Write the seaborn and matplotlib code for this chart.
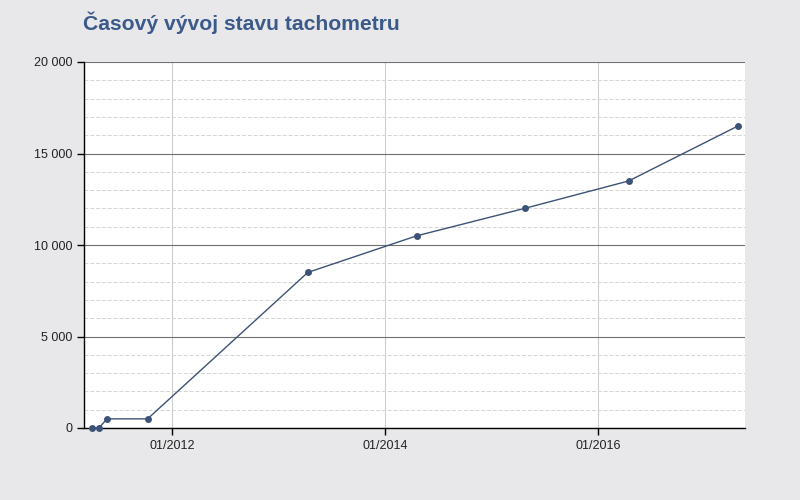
import pandas as pd
import matplotlib
matplotlib.use("Agg")
import matplotlib.pyplot as plt
import matplotlib.dates as mdates
from matplotlib.ticker import FuncFormatter, MultipleLocator
import seaborn as sns

# data
dates = ["2011-04-02", "2011-04-26", "2011-05-24", "2011-10-10", "2013-04-11",
         "2014-04-19", "2015-04-24", "2016-04-15", "2017-04-24"]
km = [0, 0, 500, 500, 8500, 10500, 12000, 13500, 16500]
tick_dates = ["2012-01-01", "2014-01-01", "2016-01-01"]

df = pd.DataFrame({"datum": pd.to_datetime(dates), "km": km})

sns.set_style("white")
plt.rcParams["font.family"] = ["Liberation Sans", "DejaVu Sans"]

bg = "#e8e8ea"
fig, ax = plt.subplots(figsize=(8, 5), dpi=100)
fig.patch.set_facecolor(bg)
fig.subplots_adjust(left=0.105, right=0.931, top=0.876, bottom=0.144)
ax.set_facecolor("white")

sns.lineplot(data=df, x="datum", y="km", ax=ax, color="#3d5278", linewidth=1,
             marker="o", markersize=5, markeredgewidth=0, zorder=3, clip_on=False)

ax.set_xlim(pd.Timestamp("2011-03-06"), pd.Timestamp("2017-05-18"))
ax.set_ylim(0, 20000)

ax.set_xticks(pd.to_datetime(tick_dates))
ax.xaxis.set_major_formatter(mdates.DateFormatter("%m/%Y"))
ax.yaxis.set_major_locator(MultipleLocator(5000))
ax.yaxis.set_minor_locator(MultipleLocator(1000))
ax.yaxis.set_major_formatter(FuncFormatter(lambda v, p: f"{int(v):,}".replace(",", " ")))

ax.grid(axis="y", which="major", color="#707070", linewidth=0.8)
ax.grid(axis="y", which="minor", color="#d4d4d4", linewidth=0.7, linestyle=(0, (4, 2)))
ax.grid(axis="x", which="major", color="#cccccc", linewidth=0.8)
ax.set_axisbelow(True)

for s in ["top", "right"]:
    ax.spines[s].set_visible(False)
for s in ["left", "bottom"]:
    ax.spines[s].set_color("black")
    ax.spines[s].set_linewidth(1)

ax.tick_params(axis="both", which="major", length=5, width=1, color="black",
               labelsize=9, labelcolor="#222222", left=True, bottom=True)
ax.tick_params(axis="y", which="minor", length=0)
ax.set_xlabel("")
ax.set_ylabel("")

fig.text(0.104, 0.955, "Časový vývoj stavu tachometru", fontsize=15.2, fontweight="bold",
         color="#3b5a8a", ha="left", va="center")

plt.savefig("out.png", dpi=100, facecolor=bg)
